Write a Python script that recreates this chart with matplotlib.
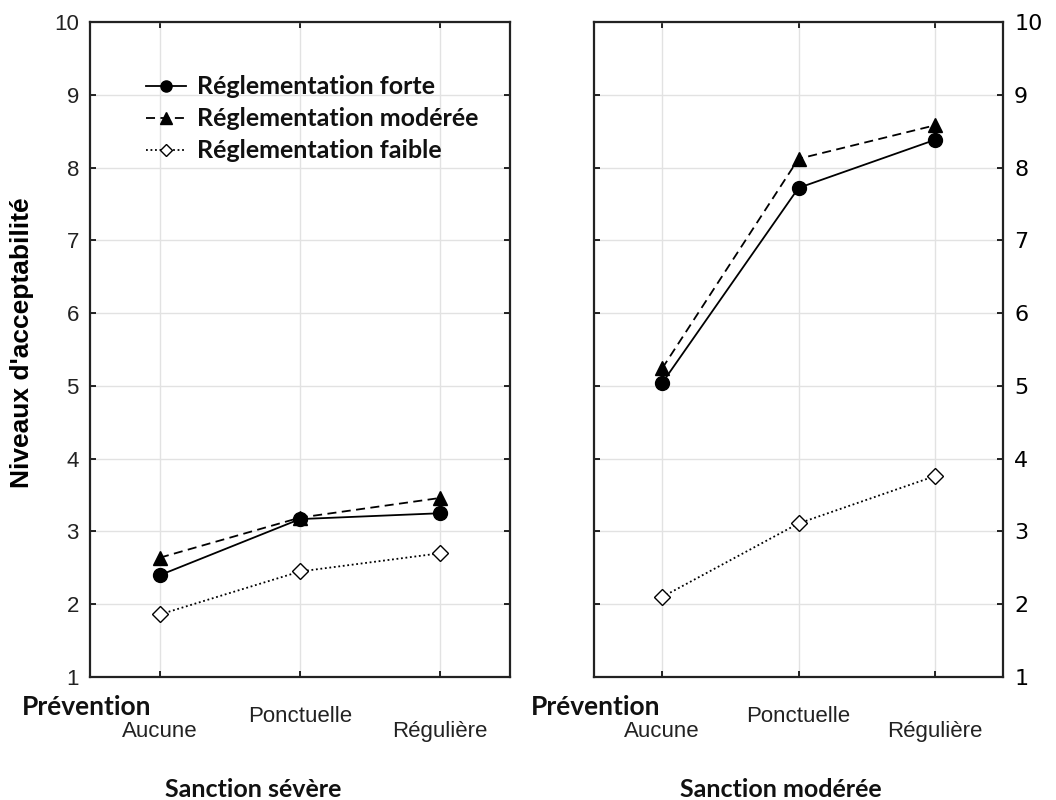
import numpy as np
import matplotlib
matplotlib.use("Agg")
import matplotlib.pyplot as plt

# data
prevention = ["Aucune", "Ponctuelle", "Régulière"]
series_names = ["Réglementation forte", "Réglementation modérée", "Réglementation faible"]

severe_forte = [2.40, 3.17, 3.25]
severe_moderee = [2.64, 3.19, 3.46]
severe_faible = [1.86, 2.45, 2.70]

moderee_forte = [5.04, 7.72, 8.38]
moderee_moderee = [5.24, 8.12, 8.58]
moderee_faible = [2.10, 3.11, 3.76]

panel_titles = ["Sanction sévère", "Sanction modérée"]

TICK_FONT = "Liberation Sans"
BOLD_FONT = "Lato"


def draw_panel(ax, forte, moderee, faible):
    x = np.arange(len(prevention))
    ax.plot(x, forte, color="black", ls="-", lw=1.3, marker="o", ms=10,
            mfc="black", mec="black", label=series_names[0])
    ax.plot(x, moderee, color="black", ls=(0, (5, 3)), lw=1.3, marker="^", ms=10,
            mfc="black", mec="black", label=series_names[1])
    ax.plot(x, faible, color="black", ls=(0, (1, 1.5)), lw=1.3, marker="D", ms=8,
            mfc="white", mec="black", mew=1.0, label=series_names[2])

    ax.set_xlim(-0.5, 2.5)
    ax.set_ylim(1, 10)
    ax.set_yticks(range(1, 11))
    ax.set_xticks(x)
    ax.set_xticklabels(prevention, fontfamily=TICK_FONT, fontsize=16, color="#222222")
    ax.grid(True, color="#e2e2e2", lw=1.0)
    ax.set_axisbelow(True)
    for s in ax.spines.values():
        s.set_linewidth(1.6)
        s.set_color("#222222")
    ax.tick_params(direction="in", length=4, width=1.2, top=True, bottom=True,
                   left=True, right=True, labelsize=16)
    ax.tick_params(axis="y", pad=8)
    for lab in ax.get_yticklabels():
        lab.set_fontfamily(TICK_FONT)
        lab.set_color("#222222")
    # staggered category labels
    ticks = ax.xaxis.get_major_ticks()
    for i, t in enumerate(ticks):
        t.set_pad(21 if i == 1 else 32)


fig = plt.figure(figsize=(10.56, 8), dpi=100)
ax1 = fig.add_axes([90 / 1056, 123 / 800, 420 / 1056, 655 / 800])
ax2 = fig.add_axes([594 / 1056, 123 / 800, 409 / 1056, 655 / 800])

draw_panel(ax1, severe_forte, severe_moderee, severe_faible)
draw_panel(ax2, moderee_forte, moderee_moderee, moderee_faible)

ax1.tick_params(labelleft=True, labelright=False)
ax2.tick_params(labelleft=False, labelright=True)

ax1.set_ylabel("Niveaux d'acceptabilité", fontfamily=TICK_FONT, fontweight="bold",
               fontsize=19)
ax1.yaxis.set_label_coords(-0.133, 0.511)

for ax, title, px, sx in [(ax1, panel_titles[0], -0.162, 0.388),
                          (ax2, panel_titles[1], -0.154, 0.457)]:
    ax.text(px, -0.046, "Prévention", transform=ax.transAxes, ha="left", va="center",
            fontfamily=BOLD_FONT, fontweight="bold", fontsize=19, color="#111111")
    ax.text(sx, -0.172, title, transform=ax.transAxes, ha="center", va="center",
            fontfamily=BOLD_FONT, fontweight="bold", fontsize=18, color="#111111")

leg = ax1.legend(loc="upper left", bbox_to_anchor=(0.08, 0.953), frameon=False,
                 prop={"family": BOLD_FONT, "weight": "bold", "size": 18},
                 handlelength=1.6, handletextpad=0.45, labelspacing=0.36, markerscale=0.8)
for t in leg.get_texts():
    t.set_color("#111111")

fig.savefig("out.png", dpi=100)
